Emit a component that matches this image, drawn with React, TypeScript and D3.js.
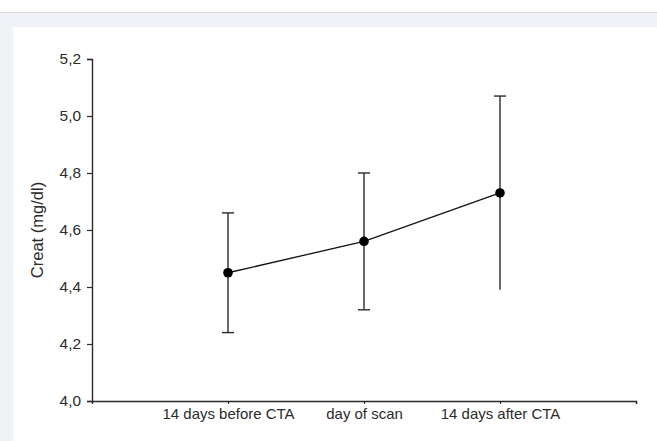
import React, { useEffect, useRef } from "react";
import * as d3 from "d3";

const categories = ["14 days before CTA", "day of scan", "14 days after CTA"];
const means = [4.45, 4.56, 4.73];
const lower = [4.24, 4.32, 4.39];
const upper = [4.66, 4.8, 5.07];
const showLowerCap = [true, true, false];
const yTicks = [4.0, 4.2, 4.4, 4.6, 4.8, 5.0, 5.2];

export default function App() {
  const ref = useRef<SVGSVGElement | null>(null);

  useEffect(() => {
    const svg = d3.select(ref.current);
    svg.selectAll("*").remove();
    const width = 657;
    const height = 441;

    // page decoration: grey strip and left margin
    svg.append("rect").attr("width", width).attr("height", height).attr("fill", "#f1f2f7");
    svg.append("rect").attr("width", width).attr("height", 12).attr("fill", "#ffffff");
    svg.append("line").attr("x1", 0).attr("x2", width).attr("y1", 12.5).attr("y2", 12.5)
      .attr("stroke", "#d6d7db");
    svg.append("rect").attr("x", 13).attr("y", 27).attr("width", width - 13).attr("height", height - 27)
      .attr("fill", "#ffffff");

    const x = d3.scaleLinear().domain([0, 4]).range([92, 636]);
    const y = d3.scaleLinear().domain([4.0, 5.2]).range([401, 59]);
    const font = "Liberation Sans, Arial, sans-serif";
    const ink = "#2a2a2a";

    // y axis
    const yAxis = svg.append("g").attr("transform", `translate(${x(0)},0)`)
      .call(d3.axisLeft(y).tickValues(yTicks).tickSize(5).tickPadding(5)
        .tickFormat((d) => d3.format(".1f")(d as number).replace(".", ",")));
    yAxis.select(".domain").attr("stroke", ink).attr("stroke-width", 1.4);
    yAxis.selectAll(".tick line").attr("stroke", ink).attr("stroke-width", 1.2);
    yAxis.selectAll("text").attr("font-family", font).attr("font-size", 14).attr("fill", "#2b2b2b")
      .attr("transform", "scale(1.1,1)");

    // x axis
    const xAxis = svg.append("g").attr("transform", `translate(0,${y(4.0)})`)
      .call(d3.axisBottom(x).tickValues([1, 2, 3, 4]).tickSize(3).tickPadding(5)
        .tickFormat((d) => categories[(d as number) - 1] ?? ""));
    xAxis.select(".domain").attr("stroke", ink).attr("stroke-width", 1.4);
    xAxis.selectAll(".tick line").attr("stroke", ink).attr("stroke-width", 1.2);
    xAxis.selectAll("text").attr("font-family", font).attr("font-size", 14).attr("fill", "#2b2b2b")
      .attr("transform", "scale(1.07,1)");

    // y label
    svg.append("text")
      .attr("transform", `translate(43,${(y(4.0) + y(5.2)) / 2}) rotate(-90)`)
      .attr("text-anchor", "middle")
      .attr("font-family", font)
      .attr("font-size", 16.5)
      .attr("fill", "#2b2b2b")
      .text("Creat (mg/dl)");

    const data = means.map((m, i) => ({ i: i + 1, m, lo: lower[i], hi: upper[i], cap: showLowerCap[i] }));

    const g = svg.append("g");
    // error bars
    data.forEach((d) => {
      g.append("line").attr("x1", x(d.i)).attr("x2", x(d.i)).attr("y1", y(d.lo)).attr("y2", y(d.hi))
        .attr("stroke", ink).attr("stroke-width", 1.4);
      g.append("line").attr("x1", x(d.i) - 6).attr("x2", x(d.i) + 6).attr("y1", y(d.hi)).attr("y2", y(d.hi))
        .attr("stroke", ink).attr("stroke-width", 1.4);
      if (d.cap) {
        g.append("line").attr("x1", x(d.i) - 6).attr("x2", x(d.i) + 6).attr("y1", y(d.lo)).attr("y2", y(d.lo))
          .attr("stroke", ink).attr("stroke-width", 1.4);
      }
    });

    // connecting line
    const line = d3.line<{ i: number; m: number }>().x((d) => x(d.i)).y((d) => y(d.m));
    g.append("path").datum(data).attr("d", line).attr("fill", "none")
      .attr("stroke", "#111").attr("stroke-width", 1.3);

    g.selectAll("circle").data(data).enter().append("circle")
      .attr("cx", (d) => x(d.i)).attr("cy", (d) => y(d.m)).attr("r", 4.8).attr("fill", "#000");
  }, []);

  return (
    <svg ref={ref} width={657} height={441}
      style={{ position: "absolute", left: 0, top: 0, display: "block" }} />
  );
}
